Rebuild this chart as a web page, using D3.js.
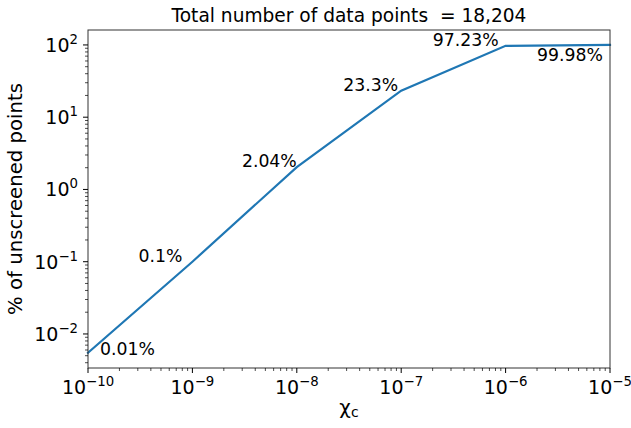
<!DOCTYPE html>
<html><head><meta charset="utf-8">
<script src="https://cdn.jsdelivr.net/npm/d3@7"></script>
<style>body{margin:0;background:#fff}text{font-family:"DejaVu Sans",sans-serif}</style>
</head><body><svg id="c" width="631" height="428"></svg>
<script>
const chiValues = [1e-10, 1e-9, 1e-8, 1e-7, 1e-6, 1e-5];
const percentValues = [0.00549, 0.1, 2.04, 23.3, 97.23, 99.98];
const pointLabels = ["0.01%", "0.1%", "2.04%", "23.3%", "97.23%", "99.98%"];
const xTickValues = [1e-10, 1e-9, 1e-8, 1e-7, 1e-6, 1e-5];
const xTickExps = ["−10", "−9", "−8", "−7", "−6", "−5"];
const yTickValues = [1e-2, 1e-1, 1, 10, 100];
const yTickExps = ["−2", "−1", "0", "1", "2"];
const titleText = "Total number of data points  = 18,204";

const svg = d3.select("#c");
const L = 88, R = 610, T = 30, B = 368;
const x = d3.scaleLog().domain([1e-10, 1e-5]).range([L, R]);
const y = d3.scaleLog().domain([0.00338, 161]).range([B, T]);

// line
svg.append("path").datum(chiValues.map((c, i) => [c, percentValues[i]]))
  .attr("fill", "none").attr("stroke", "#1f77b4").attr("stroke-width", 2.2)
  .attr("stroke-linecap", "square")
  .attr("d", d3.line().x(d => x(d[0])).y(d => y(d[1])));

// frame
svg.append("rect").attr("x", L).attr("y", T).attr("width", R - L).attr("height", B - T)
  .attr("fill", "none").attr("stroke", "#333").attr("stroke-width", 1);

// minor ticks
const xMinor = [], yMinor = [];
for (let e = -10; e < -5; e++) for (let m = 2; m <= 9; m++) xMinor.push(m * Math.pow(10, e));
for (let e = -3; e <= 2; e++) for (let m = 1; m <= 9; m++) {
  const v = m * Math.pow(10, e);
  if (m > 1 && v >= y.domain()[0] && v <= y.domain()[1]) yMinor.push(v);
}
svg.selectAll(".xm").data(xMinor).join("line")
  .attr("x1", d => x(d)).attr("x2", d => x(d)).attr("y1", B).attr("y2", B + 3)
  .attr("stroke", "#000").attr("stroke-width", 0.7);
svg.selectAll(".ym").data(yMinor).join("line")
  .attr("y1", d => y(d)).attr("y2", d => y(d)).attr("x1", L).attr("x2", L - 3)
  .attr("stroke", "#000").attr("stroke-width", 0.7);

// major ticks
svg.selectAll(".xM").data(xTickValues).join("line")
  .attr("x1", d => x(d)).attr("x2", d => x(d)).attr("y1", B).attr("y2", B + 5)
  .attr("stroke", "#000").attr("stroke-width", 1);
svg.selectAll(".yM").data(yTickValues).join("line")
  .attr("y1", d => y(d)).attr("y2", d => y(d)).attr("x1", L).attr("x2", L - 5)
  .attr("stroke", "#000").attr("stroke-width", 1);

// x tick labels
xTickValues.forEach((v, i) => {
  const t = svg.append("text").attr("x", x(v)).attr("y", B + 26)
    .attr("text-anchor", "middle").attr("font-size", 19).attr("fill", "#000");
  t.append("tspan").text("10");
  t.append("tspan").attr("dy", -8).attr("font-size", 13.3).text(xTickExps[i]);
});
// y tick labels
yTickValues.forEach((v, i) => {
  const t = svg.append("text").attr("x", L - 10).attr("y", y(v) + 7)
    .attr("text-anchor", "end").attr("font-size", 19).attr("fill", "#000");
  t.append("tspan").text("10");
  t.append("tspan").attr("dy", -8).attr("font-size", 13.3).text(yTickExps[i]);
});

// point labels (pixel offsets from each data point)
const offs = [[12, 2], [-10, 0], [0, 0], [-3, 0], [-7, 0], [-7, 16]];
const anchors = ["start", "end", "end", "end", "end", "end"];
chiValues.forEach((c, i) => {
  let px = x(c) + offs[i][0], py = y(percentValues[i]) + offs[i][1];
  svg.append("text").attr("x", px).attr("y", py).attr("text-anchor", anchors[i])
    .attr("font-size", 17.3).attr("fill", "#000").text(pointLabels[i]);
});

// title
svg.append("text").attr("x", (L + R) / 2).attr("y", 22).attr("text-anchor", "middle")
  .attr("font-size", 18.6).attr("fill", "#000").attr("xml:space", "preserve")
  .style("white-space", "pre").text(titleText);

// x label
const xl = svg.append("text").attr("x", (L + R) / 2).attr("y", 414).attr("text-anchor", "middle")
  .attr("font-size", 20).attr("fill", "#000");
xl.append("tspan").text("χ");
xl.append("tspan").attr("font-size", 14).attr("dy", 3).text("c");

// y label
svg.append("text").attr("transform", `translate(22,${(T + B) / 2}) rotate(-90)`)
  .attr("text-anchor", "middle").attr("font-size", 19.7).attr("fill", "#000")
  .text("% of unscreened points");
</script></body></html>
